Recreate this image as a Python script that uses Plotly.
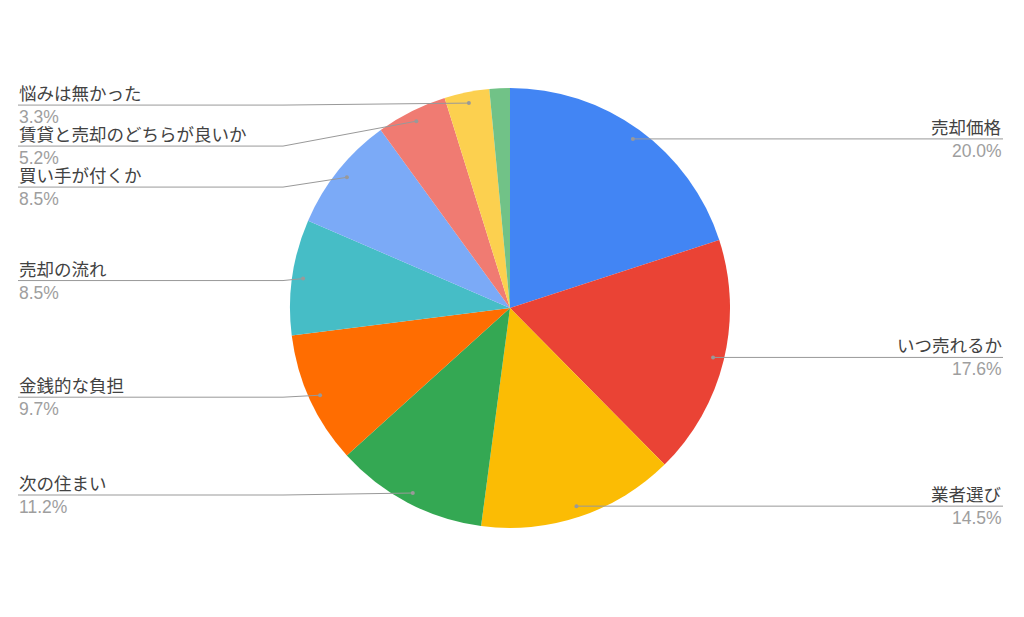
import math
import plotly.graph_objects as go

labels = ["売却価格", "いつ売れるか", "業者選び", "次の住まい", "金銭的な負担",
          "売却の流れ", "買い手が付くか", "賃貸と売却のどちらが良いか", "悩みは無かった", "その他"]
values = [20.0, 17.6, 14.5, 11.2, 9.7, 8.5, 8.5, 5.2, 3.3, 1.5]
pct_text = ["20.0%", "17.6%", "14.5%", "11.2%", "9.7%", "8.5%", "8.5%", "5.2%", "3.3%", ""]
show_label = [True] * 9 + [False]
colors = ["#4285F4", "#EA4335", "#FBBC04", "#34A853", "#FF6D01",
          "#46BDC6", "#7BAAF7", "#F07B72", "#FCD04F", "#71C287"]

W, H = 1024, 617
cx, cy, r = 510, 308, 220

fig = go.Figure(go.Pie(
    labels=labels, values=values, sort=False, direction="clockwise", rotation=0,
    textinfo="none", hoverinfo="label+percent",
    marker=dict(colors=colors, line=dict(width=0)),
    domain=dict(x=[(cx - r) / W, (cx + r) / W], y=[1 - (cy + r) / H, 1 - (cy - r) / H]),
    showlegend=False,
))

def px(x):
    return x / W

def py(y):
    return 1 - y / H

total = sum(values)
cum = 0
left_items, right_items = [], []
for i, v in enumerate(values):
    mid = (cum + v / 2) / total * 2 * math.pi
    cum += v
    if not show_label[i]:
        continue
    dx = cx + 0.95 * r * math.sin(mid)
    dy = cy - 0.95 * r * math.cos(mid)
    item = dict(i=i, dx=dx, dy=dy)
    (right_items if math.sin(mid) > 0 else left_items).append(item)

def spread(items, gap=41):
    items.sort(key=lambda it: it["dy"])
    last = -1e9
    for it in items:
        it["ly"] = max(it["dy"] + 2, last + gap)
        last = it["ly"]

spread(left_items)
spread(right_items)

shapes, annotations = [], []
line_col = "#999999"
for side, items in (("L", left_items), ("R", right_items)):
    for it in items:
        i, dx, dy, ly = it["i"], it["dx"], it["dy"], it["ly"]
        if side == "L":
            bend_x = min(dx, cx - r - 7)
            end_x = 18
            anchor = "left"
        else:
            ly = it["dy"]
            bend_x = dx
            end_x = 1003
            anchor = "right"
        path = f"M {px(dx)},{py(dy)} L {px(bend_x)},{py(ly)} L {px(end_x)},{py(ly)}"
        shapes.append(dict(type="path", path=path, xref="paper", yref="paper",
                           line=dict(color=line_col, width=1)))
        shapes.append(dict(type="circle", xref="paper", yref="paper",
                           x0=px(dx - 2), x1=px(dx + 2), y0=py(dy - 2), y1=py(dy + 2),
                           fillcolor=line_col, line=dict(width=0)))
        annotations.append(dict(x=px(end_x), y=py(ly), xref="paper", yref="paper",
                                text=labels[i], showarrow=False, xanchor=anchor, yanchor="bottom",
                                font=dict(size=17.5, color="#424242"), borderpad=0))
        annotations.append(dict(x=px(end_x), y=py(ly + 1), xref="paper", yref="paper",
                                text=pct_text[i], showarrow=False, xanchor=anchor, yanchor="top",
                                font=dict(size=17.5, color="#9e9e9e"), borderpad=0))

fig.update_layout(
    width=W, height=H, margin=dict(l=0, r=0, t=0, b=0),
    paper_bgcolor="white", plot_bgcolor="white",
    font=dict(family="'Liberation Sans', Arial, 'Noto Sans CJK JP', sans-serif"),
    shapes=shapes, annotations=annotations,
)

fig.write_html("out.html", config={"displayModeBar": False},
               post_script="document.body.style.margin='0';")
